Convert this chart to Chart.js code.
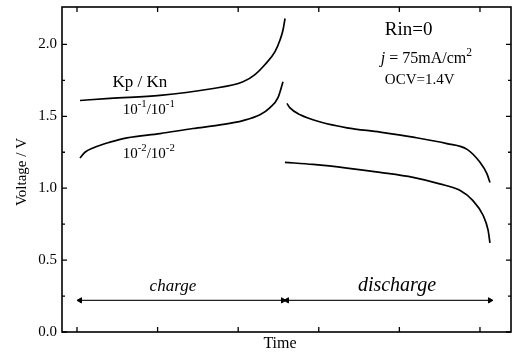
<!DOCTYPE html>
<html>
<head>
<meta charset="utf-8">
<script src="https://cdn.jsdelivr.net/npm/chart.js@4.4.1/dist/chart.umd.min.js"></script>
<style>
  html, body { margin: 0; padding: 0; background: #fff; }
  #wrap { width: 516px; height: 357px; }
</style>
</head>
<body>
<div id="wrap"><canvas id="chart"></canvas></div>
<script>
// Voltage curves: time (arb. units) vs voltage (V)
const chargeHighT = [1.037, 1.409, 2.030, 2.650, 3.060, 3.208, 3.333, 3.457, 3.519, 3.556, 3.581];
const chargeHighV = [1.61, 1.625, 1.645, 1.69, 1.74, 1.79, 1.86, 1.95, 2.03, 2.10, 2.18];

const chargeLowT = [1.037, 1.099, 1.199, 1.409, 1.620, 2.030, 2.439, 2.774, 3.060, 3.270, 3.395, 3.494, 3.556];
const chargeLowV = [1.21, 1.25, 1.28, 1.32, 1.35, 1.38, 1.415, 1.44, 1.47, 1.51, 1.56, 1.63, 1.74];

const dischargeHighT = [3.605, 3.64, 3.77, 4.02, 4.35, 4.76, 5.17, 5.59, 5.84, 6.00, 6.087, 6.124];
const dischargeHighV = [1.59, 1.56, 1.51, 1.46, 1.42, 1.39, 1.355, 1.31, 1.27, 1.18, 1.10, 1.04];

const dischargeLowT = [3.58, 3.93, 4.35, 4.76, 5.17, 5.50, 5.75, 5.91, 6.04, 6.10, 6.124];
const dischargeLowV = [1.18, 1.165, 1.14, 1.11, 1.075, 1.03, 0.985, 0.915, 0.81, 0.71, 0.62];

// phase arrows (double headed)
const chargeArrowT = [1.037, 3.556];
const dischargeArrowT = [3.605, 6.124];
const arrowV = 0.22;

const xTicks = [1, 2, 3, 4, 5, 6];
const yMajorTicks = [0, 0.5, 1.0, 1.5, 2.0];
const yMinorTicks = [0.25, 0.75, 1.25, 1.75];

function pts(xs, ys) {
  return xs.map((x, i) => ({ x: x, y: ys[i] }));
}

const serif = "'Liberation Serif', 'DejaVu Serif', serif";

function curve(xs, ys) {
  return {
    data: pts(xs, ys),
    borderColor: "#000",
    borderWidth: 1.7,
    pointRadius: 0,
    cubicInterpolationMode: "monotone",
    fill: false
  };
}

function arrow(xs) {
  return {
    data: xs.map(x => ({ x: x, y: arrowV })),
    borderColor: "#222",
    borderWidth: 1.2,
    pointStyle: "triangle",
    pointRadius: 3,
    pointRotation: [270, 90],
    pointBackgroundColor: "#000",
    pointBorderColor: "#000",
    pointBorderWidth: 1
  };
}

// text with superscripts: parts = [[text, isSup, isItalic], ...]
function drawRich(ctx, parts, x, y, size, align) {
  const fontOf = p => (p[2] ? "italic " : "") + (p[1] ? size * 0.72 : size) + "px " + serif;
  let total = 0;
  parts.forEach(p => {
    ctx.font = fontOf(p);
    total += ctx.measureText(p[0]).width;
  });
  let cx = align === "center" ? x - total / 2 : x;
  ctx.textAlign = "left";
  parts.forEach(p => {
    ctx.font = fontOf(p);
    ctx.fillText(p[0], cx, p[1] ? y - size * 0.38 : y);
    cx += ctx.measureText(p[0]).width;
  });
}

const decor = {
  id: "decor",
  afterDraw(chart) {
    const ctx = chart.ctx;
    const xs = chart.scales.x, ys = chart.scales.y;
    const a = chart.chartArea;
    ctx.save();
    ctx.strokeStyle = "#000";
    ctx.lineWidth = 1.6;
    ctx.strokeRect(a.left, a.top, a.right - a.left, a.bottom - a.top);

    // inward tick marks on all four sides
    ctx.lineWidth = 1.3;
    ctx.beginPath();
    xTicks.forEach(t => {
      const px = xs.getPixelForValue(t);
      ctx.moveTo(px, a.bottom); ctx.lineTo(px, a.bottom - 5);
      ctx.moveTo(px, a.top); ctx.lineTo(px, a.top + 5);
    });
    yMajorTicks.forEach(v => {
      const py = ys.getPixelForValue(v);
      ctx.moveTo(a.left, py); ctx.lineTo(a.left + 5, py);
      ctx.moveTo(a.right, py); ctx.lineTo(a.right - 5, py);
    });
    yMinorTicks.forEach(v => {
      const py = ys.getPixelForValue(v);
      ctx.moveTo(a.left, py); ctx.lineTo(a.left + 3, py);
      ctx.moveTo(a.right, py); ctx.lineTo(a.right - 3, py);
    });
    ctx.stroke();

    ctx.fillStyle = "#000";
    ctx.textBaseline = "middle";
    const X = v => xs.getPixelForValue(v);
    const Y = v => ys.getPixelForValue(v);

    drawRich(ctx, [["Kp / Kn"]], X(1.78), Y(1.736), 17, "center");
    drawRich(ctx, [["10"], ["-1", true], ["/10"], ["-1", true]], X(1.89), Y(1.545), 15, "center");
    drawRich(ctx, [["10"], ["-2", true], ["/10"], ["-2", true]], X(1.89), Y(1.24), 15, "center");

    drawRich(ctx, [["Rin=0"]], X(4.82), Y(2.10), 19, "left");
    drawRich(ctx, [["j", false, true], [" = 75mA/cm"], ["2", true]], X(4.77), Y(1.90), 16, "left");
    drawRich(ctx, [["OCV=1.4V"]], X(4.82), Y(1.755), 15, "left");

    drawRich(ctx, [["charge", false, true]], X(2.19), Y(0.315), 17, "center");
    drawRich(ctx, [["discharge", false, true]], X(4.97), Y(0.32), 20, "center");

    // axis titles
    ctx.font = "16px " + serif;
    ctx.textAlign = "center";
    ctx.fillText("Time", 280, 344);
    ctx.font = "15px " + serif;
    ctx.translate(22, 172);
    ctx.rotate(-Math.PI / 2);
    ctx.fillText("Voltage / V", 0, 0);
    ctx.restore();
  }
};

new Chart(document.getElementById("chart"), {
  type: "line",
  data: {
    datasets: [
      curve(chargeHighT, chargeHighV),
      curve(chargeLowT, chargeLowV),
      curve(dischargeHighT, dischargeHighV),
      curve(dischargeLowT, dischargeLowV),
      arrow(chargeArrowT),
      arrow(dischargeArrowT)
    ]
  },
  options: {
    responsive: true,
    maintainAspectRatio: false,
    animation: false,
    layout: { padding: { top: 7, right: 5, left: 0, bottom: 0 } },
    plugins: { legend: { display: false }, tooltip: { enabled: false } },
    scales: {
      x: {
        type: "linear",
        min: 0.814,
        max: 6.385,
        grid: { display: false, drawTicks: false },
        border: { display: false },
        ticks: { display: false, stepSize: 1 },
        afterFit(scale) { scale.height = 25; scale.paddingLeft = 0; scale.paddingRight = 0; }
      },
      y: {
        min: 0,
        max: 2.26,
        grid: { display: false, drawTicks: false },
        border: { display: false },
        ticks: {
          stepSize: 0.5,
          padding: 5,
          color: "#000",
          font: { family: serif, size: 15 },
          callback: v => (v % 0.5 === 0 ? v.toFixed(1) : "")
        },
        afterFit(scale) { scale.width = 62; scale.paddingTop = 0; scale.paddingBottom = 0; }
      }
    }
  },
  plugins: [decor]
});
</script>
</body>
</html>
